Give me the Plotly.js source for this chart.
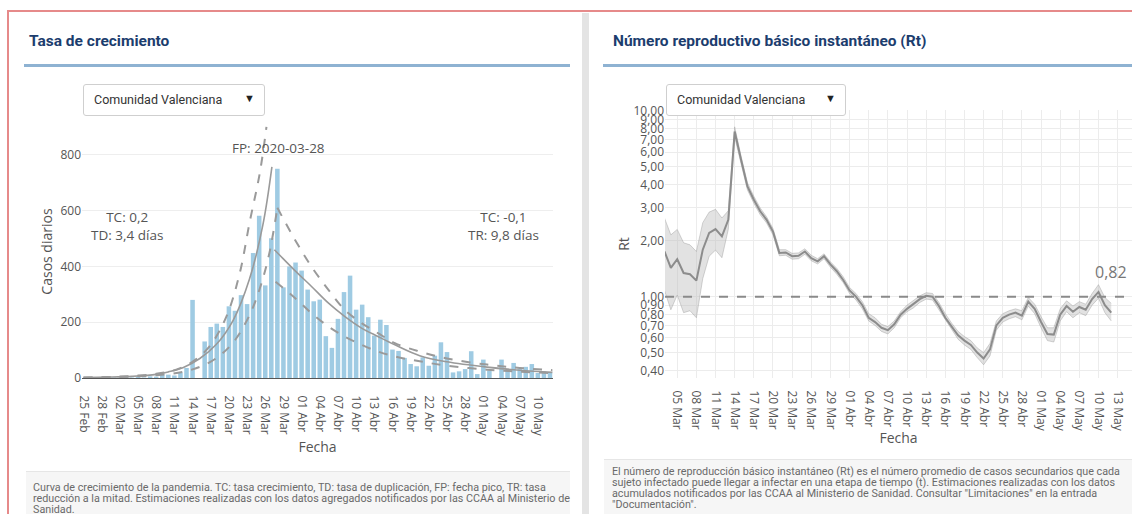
<!DOCTYPE html>
<html><head><meta charset="utf-8">
<script src="https://cdn.plot.ly/plotly-3.0.1.min.js"></script>
<style>
body{margin:0;width:1132px;height:514px;overflow:hidden;background:#fff;position:relative;font-family:Roboto,'Open Sans',sans-serif}
.abs{position:absolute}
.frame{left:7px;top:10px;width:1130px;height:510px;border-top:2px solid #e68a8a;border-left:2px solid #e68a8a}
.sep{left:582px;top:13px;width:7px;height:510px;background:#e4e4e4}
.ttl{font-weight:700;font-size:15.5px;color:#1c3d6e;white-space:nowrap}
.bl{height:3px;background:#8eb2d2}
.dd{border:1px solid #cfcfcf;border-radius:3px;background:#fff;box-sizing:border-box;z-index:5;font-size:12.5px;color:#333}
.dd .t{position:absolute;left:10px;top:7px}
.dd .a{position:absolute;right:9px;top:7px;font-size:11px;color:#222}
.note{background:#f6f6f6;border-top:1px solid #e6e6e6;font-size:10.75px;color:#6a6a6a;line-height:11px;white-space:nowrap;box-sizing:border-box}
.plot{z-index:1}
</style></head><body>
<div class="abs frame"></div>
<div class="abs sep"></div>
<div class="abs ttl" style="left:29px;top:32px">Tasa de crecimiento</div>
<div class="abs bl" style="left:24px;top:64px;width:546px"></div>
<div class="abs ttl" style="left:613px;top:32px">Número reproductivo básico instantáneo (Rt)</div>
<div class="abs bl" style="left:603px;top:64px;width:529px"></div>
<div id="p1" class="abs plot" style="left:0;top:70px;width:575px;height:400px"></div>
<div id="p2" class="abs plot" style="left:590px;top:70px;width:542px;height:400px"></div>
<div class="abs dd" style="left:83px;top:84px;width:182px;height:32px"><span class="t">Comunidad Valenciana</span><span class="a">▼</span></div>
<div class="abs dd" style="left:666px;top:84px;width:180px;height:32px"><span class="t">Comunidad Valenciana</span><span class="a">▼</span></div>
<div class="abs note" style="left:26px;top:471px;width:544px;height:50px;padding:10px 0 0 7px">Curva de crecimiento de la pandemia. TC: tasa crecimiento, TD: tasa de duplicación, FP: fecha pico, TR: tasa<br>reducción a la mitad. Estimaciones realizadas con los datos agregados notificados por las CCAA al Ministerio de<br>Sanidad.</div>
<div class="abs note" style="left:604px;top:459px;width:528px;height:60px;padding:6px 0 0 8px">El número de reproducción básico instantáneo (Rt) es el número promedio de casos secundarios que cada<br>sujeto infectado puede llegar a infectar en una etapa de tiempo (t). Estimaciones realizadas con los datos<br>acumulados notificados por las CCAA al Ministerio de Sanidad. Consultar "Limitaciones" en la entrada<br>"Documentación".</div>
<script>
// ---------- DATA: Tasa de crecimiento ----------
const casesStart = '2020-02-25';
const dailyCases = [0,1,0,1,0,2,1,3,2,4,2,6,5,15,12,9,19,36,280,0,131,183,195,183,257,241,297,265,448,582,332,501,750,325,400,414,385,317,275,281,150,108,212,308,367,245,263,218,152,209,190,102,97,72,50,42,74,44,80,128,93,20,24,32,96,14,66,26,0,66,30,54,32,40,50,18,24,20];
// fitted curves (day offset from 25 Feb, value)
const growthDays   = [0,4,8,12,14,16.4,19.2,21.9,24.7,27.4,29.6,31.1];
const growthFit    = [1.3,3,6,13,22,37,70,120,207,355,548,757];
const growthUpDays = [0,4,8,12,15.3,18.1,20.8,23.6,25.8,27.4,29.1,30.2];
const growthUp     = [1.5,3.5,7.5,15,30,60,113,221,377,556,735,900];
const growthLoDays = [0,4,8,12,16.4,19.2,21.9,24.7,27.4,29.1,30.6,32.0];
const growthLo     = [1,2.5,5,10,22,40,71,127,225,321,440,610];
const decayDays    = [31.5,32.4,34.9,37.6,40.4,43.1,45.9,48.6,51.4,55.5,60,66.6,72,77.4];
const decayFit     = [460,440,385,329,269,221,179,149,119,80,58,39,28,20];
const decayUpDays  = [32.0,34.9,37.6,40.4,43.1,45.9,48.6,51.4,55.5,60,66.6,72,77.4];
const decayUp      = [610,496,400,317,245,197,161,125,95,70,48,36,28];
const decayLoDays  = [31.7,34.9,37.6,40.4,43.1,45.9,48.6,51.4,55.5,60,66.6,72,77.4];
const decayLo      = [345,287,233,185,149,119,95,77,60,44,30,23,17];
const growthLabel = 'TC: 0,2<br>TD: 3,4 días';
const decayLabel  = 'TC: -0,1<br>TR: 9,8 días';
const peakLabel   = 'FP: 2020-03-28';
const casesYTicks = [0,200,400,600,800];

// ---------- DATA: Rt ----------
const rtStart = '2020-03-03';
const rt = [1.75,1.43,1.59,1.34,1.32,1.22,1.79,2.20,2.31,2.11,2.59,7.74,5.45,3.92,3.32,2.88,2.59,2.24,1.72,1.73,1.65,1.66,1.75,1.61,1.55,1.65,1.49,1.37,1.23,
 1.08,1.00,0.90,0.77,0.73,0.68,0.66,0.71,0.80,0.86,0.91,0.97,1.01,1.00,0.89,0.77,0.69,0.62,0.58,0.55,0.50,0.465,0.52,0.70,0.77,0.80,0.82,0.79,0.94,0.86,
 0.73,0.63,0.625,0.80,0.89,0.83,0.88,0.85,0.97,1.06,0.90,0.82];
const rtLow = [1.08,0.85,1.02,0.82,0.84,0.77,1.25,1.65,1.78,1.62,2.30,7.20,5.20,3.75,3.18,2.76,2.49,2.15,1.66,1.67,1.59,1.60,1.69,1.56,1.50,1.60,1.44,1.32,1.19,
 1.04,0.96,0.86,0.74,0.70,0.65,0.63,0.68,0.77,0.83,0.87,0.93,0.97,0.96,0.85,0.74,0.66,0.59,0.55,0.52,0.47,0.43,0.48,0.66,0.73,0.76,0.78,0.75,0.89,0.81,
 0.68,0.58,0.57,0.74,0.83,0.77,0.82,0.79,0.90,0.98,0.82,0.74];
const rtHigh = [2.65,2.15,2.30,1.95,1.90,1.75,2.50,2.85,2.95,2.65,2.90,8.20,5.70,4.10,3.47,3.00,2.69,2.33,1.79,1.79,1.71,1.72,1.81,1.67,1.60,1.70,1.54,1.42,1.28,
 1.12,1.04,0.94,0.81,0.77,0.71,0.69,0.74,0.83,0.90,0.95,1.01,1.05,1.04,0.93,0.81,0.72,0.65,0.61,0.58,0.53,0.50,0.56,0.74,0.81,0.84,0.86,0.84,0.99,0.91,
 0.78,0.68,0.68,0.86,0.95,0.89,0.94,0.91,1.04,1.16,0.99,0.92];
const rtYTicks = [0.4,0.5,0.6,0.7,0.8,0.9,1,2,3,4,5,6,7,8,9,10];
const rtRef = 1;
const monthsEs = ['Ene','Feb','Mar','Abr','May','Jun'];

// ---------- helpers ----------
const DAY = 86400000;
function offDate(start, d){ const t = Date.parse(start+'T00:00:00Z') + d*DAY; return new Date(t).toISOString().slice(0,19).replace('T',' '); }
function seq(start, n){ const a=[]; for(let i=0;i<n;i++) a.push(offDate(start,i).slice(0,10)); return a; }
function label(ds){ const m=+ds.slice(5,7); return ds.slice(8,10)+' '+monthsEs[m-1]; }
function fmt(v,dec){ return v.toFixed(dec).replace('.',','); }

const casesDates = seq(casesStart, dailyCases.length);
const t1 = []; for(let i=0;i<casesDates.length;i+=3){ if(casesDates[i] <= '2020-05-10') t1.push(casesDates[i]); }
const rtDates = seq(rtStart, rt.length);
const t2 = seq('2020-03-05', 70).filter((d,i)=>i%3===0);

const F = 'Open Sans, sans-serif';
const grey = '#9a9a9a';
const cfg = {displayModeBar:false, staticPlot:true};

// ---------- chart 1 ----------
const toX = arr => arr.map(d => offDate(casesStart, d));
const tr1 = [
 {type:'bar', x:casesDates, y:dailyCases, marker:{color:'#9fcbe3'}, hoverinfo:'skip'},
 {type:'scatter', mode:'lines', x:toX(growthDays), y:growthFit, line:{color:grey,width:1.6,shape:'spline'}},
 {type:'scatter', mode:'lines', x:toX(growthUpDays), y:growthUp, line:{color:grey,width:2,dash:'dash',shape:'spline'}},
 {type:'scatter', mode:'lines', x:toX(growthLoDays), y:growthLo, line:{color:grey,width:2,dash:'dash',shape:'spline'}},
 {type:'scatter', mode:'lines', x:toX(decayDays), y:decayFit, line:{color:grey,width:1.6,shape:'spline'}},
 {type:'scatter', mode:'lines', x:toX(decayUpDays), y:decayUp, line:{color:grey,width:2,dash:'dash',shape:'spline'}},
 {type:'scatter', mode:'lines', x:toX(decayLoDays), y:decayLo, line:{color:grey,width:2,dash:'dash',shape:'spline'}}
];
const lay1 = {
 width:575, height:400, margin:{l:82,r:22,t:55,b:92},
 paper_bgcolor:'rgba(0,0,0,0)', plot_bgcolor:'rgba(0,0,0,0)',
 font:{family:F, size:12, color:'#555'}, showlegend:false, bargap:0.25,
 xaxis:{type:'date', range:[offDate(casesStart,-0.25), offDate(casesStart,77.5)], tickmode:'array', tickvals:t1, ticktext:t1.map(label),
   tickangle:90, showgrid:false, zeroline:false, showline:true, linecolor:'#555', linewidth:1,
   ticks:'outside', ticklen:14, tickcolor:'rgba(0,0,0,0)', tickfont:{size:12,color:'#555'},
   title:{text:'Fecha', font:{size:14,color:'#555'}, standoff:6}},
 yaxis:{range:[0,907], tickmode:'array', tickvals:casesYTicks, ticktext:casesYTicks.map(String), gridcolor:'#eeeeee', zeroline:false,
   ticks:'', tickfont:{size:12,color:'#555'},
   title:{text:'Casos diarios', font:{size:14,color:'#555'}, standoff:4}},
 annotations:[
  {xref:'paper', yref:'paper', x:0.0955, y:0.60, xanchor:'center', yanchor:'middle', text:growthLabel, showarrow:false, font:{size:13.5,color:'#555'}, align:'center'},
  {xref:'paper', yref:'paper', x:0.894, y:0.60, xanchor:'center', yanchor:'middle', text:decayLabel, showarrow:false, font:{size:13.5,color:'#555'}, align:'center'},
  {xref:'paper', yref:'paper', x:0.418, y:0.91, xanchor:'center', yanchor:'middle', text:peakLabel, showarrow:false, font:{size:13.5,color:'#555'}, align:'center'}
 ]
};
Plotly.newPlot('p1', tr1, lay1, cfg);

// ---------- chart 2 ----------
const xr = ['2020-03-03 02:00','2020-05-15 06:00'];
const lastV = rt[rt.length-1];
const tr2 = [
 {type:'scatter', mode:'lines', x:rtDates, y:rtLow, line:{color:'rgba(150,150,150,0.5)',width:0.8}},
 {type:'scatter', mode:'lines', x:rtDates, y:rtHigh, fill:'tonexty', fillcolor:'rgba(190,190,190,0.45)', line:{color:'rgba(150,150,150,0.5)',width:0.8}},
 {type:'scatter', mode:'lines', x:xr, y:[rtRef,rtRef], line:{color:'#8a8a8a',width:2,dash:'dash'}},
 {type:'scatter', mode:'lines', x:rtDates, y:rt, line:{color:'#8c8c8c',width:2}}
];
const lay2 = {
 width:542, height:400, margin:{l:75,r:0,t:40,b:92},
 paper_bgcolor:'rgba(0,0,0,0)', plot_bgcolor:'rgba(0,0,0,0)',
 font:{family:F, size:12, color:'#555'}, showlegend:false,
 xaxis:{type:'date', range:xr, tickmode:'array', tickvals:t2, ticktext:t2.map(label), tickangle:90,
   showgrid:true, gridcolor:'#ececec', zeroline:false, showline:false,
   ticks:'outside', ticklen:9, tickcolor:'rgba(0,0,0,0)', tickfont:{size:12,color:'#555'},
   title:{text:'Fecha', font:{size:14,color:'#555'}, standoff:2}},
 yaxis:{type:'log', range:[Math.log10(0.365), Math.log10(10.1)], tickmode:'array', tickvals:rtYTicks, ticktext:rtYTicks.map(v=>fmt(v,2)),
   showgrid:true, gridcolor:'#ececec', zeroline:false, ticks:'', tickfont:{size:12,color:'#555'},
   title:{text:'Rt', font:{size:14,color:'#555'}, standoff:0}},
 annotations:[
  {x:rtDates[rtDates.length-1], y:Math.log10(lastV)+0.22, text:fmt(lastV,2), showarrow:false, font:{size:16,color:'#777'}, xanchor:'center'}
 ]
};
Plotly.newPlot('p2', tr2, lay2, cfg);
</script>
</body></html>
